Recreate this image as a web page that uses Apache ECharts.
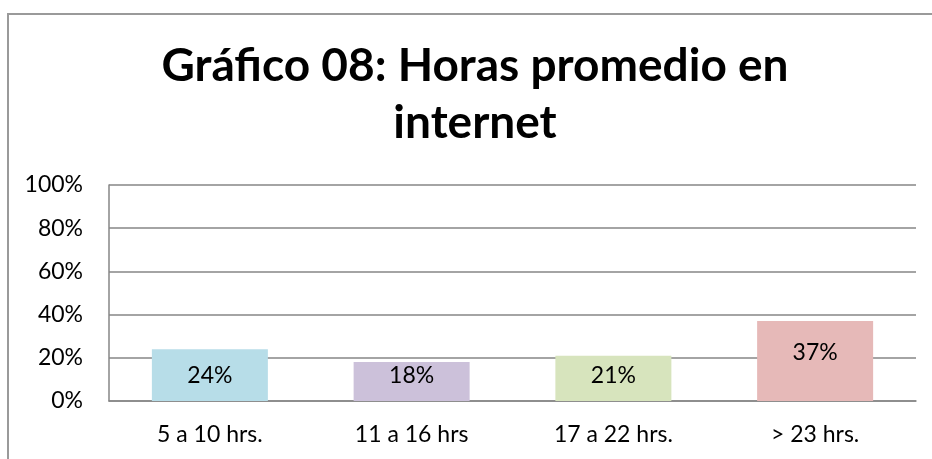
<!DOCTYPE html>
<html>
<head>
<meta charset="utf-8">
<script src="https://cdn.jsdelivr.net/npm/echarts@6/dist/echarts.min.js"></script>
<style>
	html, body { margin: 0; padding: 0; background: #ffffff; }
	#main { width: 932px; height: 459px; }
</style>
</head>
<body>
<div id="main"></div>
<script>
	// datos del gráfico
	var categorias = ['5 a 10 hrs.', '11 a 16 hrs', '17 a 22 hrs.', '> 23 hrs.'];
	var porcentajes = [0.24, 0.18, 0.21, 0.37];
	var colores = ['#b7dde8', '#ccc1da', '#d7e4bd', '#e6b9b8'];
	var titulo = 'Gráfico 08: Horas promedio en\ninternet';

	var fuente = 'Lato, sans-serif';

	var myChart = echarts.init(document.getElementById('main'));

	var option = {
		backgroundColor: '#ffffff',
		animation: false,
		title: {
			text: titulo,
			left: 470,
			top: 33,
			textAlign: 'center',
			textStyle: {
				fontFamily: fuente,
				fontWeight: 'bold',
				fontSize: 46,
				lineHeight: 57,
				color: '#000000'
			}
		},
		graphic: [
			{
				// marco del gráfico
				type: 'rect',
				shape: { x: 8, y: 14, width: 1000, height: 1000 },
				style: { fill: 'none', stroke: '#9a9a9a', lineWidth: 2 },
				silent: true
			}
		],
		grid: {
			left: 109,
			right: 16,
			top: 185,
			bottom: 58
		},
		xAxis: {
			type: 'category',
			data: categorias,
			axisLine: { show: true, lineStyle: { color: '#868686', width: 1.5 } },
			axisTick: { show: false },
			axisLabel: {
				color: '#000000',
				fontFamily: fuente,
				fontSize: 23,
				margin: 22
			}
		},
		yAxis: {
			type: 'value',
			min: 0,
			max: 1,
			interval: 0.2,
			axisLine: { show: true, lineStyle: { color: '#868686', width: 1.5 } },
			axisTick: { show: false },
			splitLine: { show: true, lineStyle: { color: '#868686', width: 1.5 } },
			axisLabel: {
				color: '#000000',
				fontFamily: fuente,
				fontSize: 23,
				margin: 26,
				formatter: function (v) {
					return Math.round(v * 100) + '%';
				}
			}
		},
		series: [
			{
				type: 'bar',
				barWidth: '57.5%',
				data: porcentajes.map(function (v, i) {
					return {
						value: v,
						itemStyle: { color: colores[i] },
						label: {
							position: 'insideBottom',
							distance: i === 3 ? 37 : 14
						}
					};
				}),
				label: {
					show: true,
					color: '#000000',
					fontFamily: fuente,
					fontSize: 23,
					formatter: function (p) {
						return Math.round(p.value * 100) + '%';
					}
				}
			}
		]
	};

	myChart.setOption(option);
</script>
</body>
</html>
